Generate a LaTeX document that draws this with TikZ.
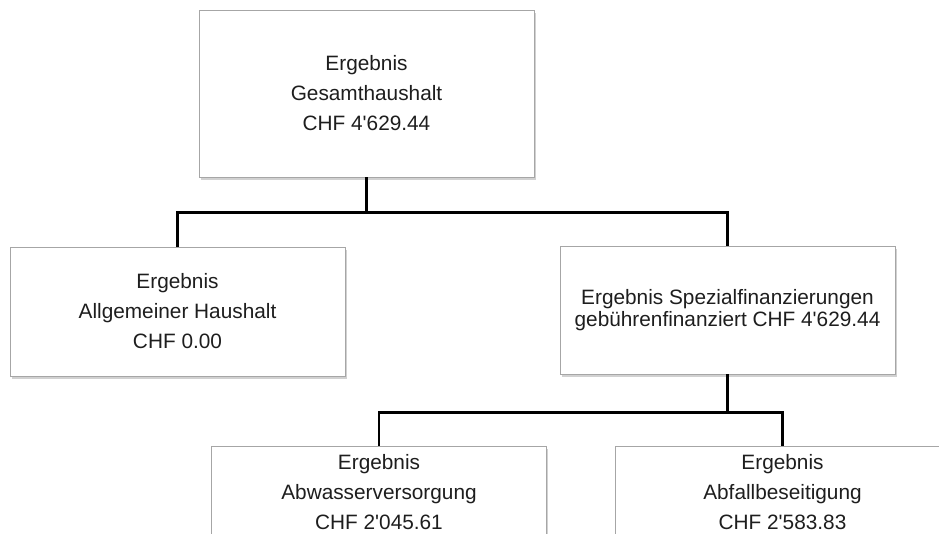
\documentclass[tikz,border=0pt]{standalone}
\usepackage{fontspec}
\setmainfont{Liberation Sans}[Ligatures=TeXOff]
\usetikzlibrary{shadows}
\definecolor{boxborder}{HTML}{A6A6A6}
\definecolor{txt}{HTML}{1E1E1E}
\tikzset{
  box/.style={draw=boxborder, line width=0.9pt, fill=white, rectangle,
    inner sep=0pt, align=center, text=txt,
    font=\fontsize{20.8}{30}\selectfont,
    drop shadow={shadow xshift=1.5pt, shadow yshift=-2.5pt, fill=black!30, opacity=0.6}},
  conn/.style={draw=black, line width=2.8pt}
}
\begin{document}
\begin{tikzpicture}[x=1pt,y=-1pt]
\useasboundingbox (0,0) rectangle (939,533);
\clip (0,0) rectangle (939,533);
\node[box, minimum width=335pt, minimum height=167pt] (top) at (366.5,93.5)
  {Ergebnis\\Gesamthaushalt\\CHF 4'629.44};
\node[box, minimum width=335pt, minimum height=129pt] (left) at (177.5,311.5)
  {Ergebnis\\Allgemeiner Haushalt\\CHF 0.00};
\node[box, minimum width=335pt, minimum height=128pt, font=\fontsize{20.8}{22}\selectfont] (right) at (727.5,310)
  {Ergebnis Spezialfinanzierungen\\gebührenfinanziert CHF 4'629.44};
\node[box, minimum width=334.5pt, minimum height=92pt] (abw) at (379,492)
  {Ergebnis\\Abwasserversorgung\\CHF 2'045.61};
\node[box, minimum width=335pt, minimum height=92pt] (abf) at (782.5,492)
  {Ergebnis\\Abfallbeseitigung\\CHF 2'583.83};
\coordinate (j1) at ([yshift=-35pt]top.south);
\coordinate (j2) at ([yshift=-38pt]right.south);
\draw[conn] (top.south) -- (j1) -| (left.north);
\draw[conn] (j1) -| (right.north);
\draw[conn] (right.south) -- (j2) -| (abw.north);
\draw[conn] (j2) -| (abf.north);
\end{tikzpicture}
\end{document}
